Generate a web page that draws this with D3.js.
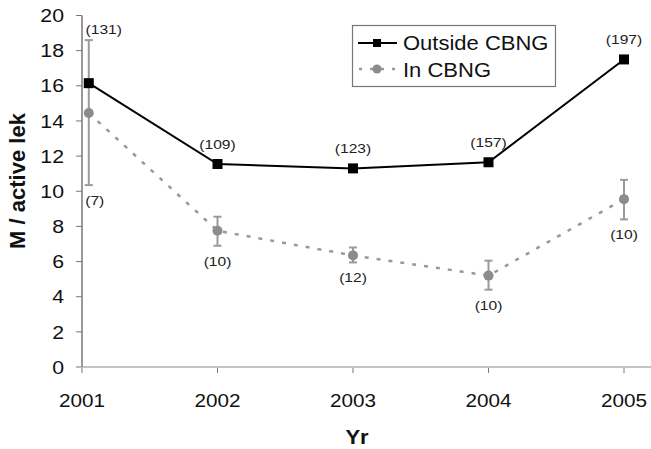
<!DOCTYPE html>
<html><head><meta charset="utf-8">
<script src="https://cdn.jsdelivr.net/npm/d3@7"></script>
<style>body{margin:0;background:#fff}svg{display:block}text{font-family:"Liberation Sans",Arial,sans-serif}</style>
</head><body><svg id="c" width="651" height="449"></svg>
<script>
const years = [2001, 2002, 2003, 2004, 2005];
// plotted x positions (first point nudged off the axis as in the original)
const xPos = [2001.05, 2002, 2003, 2004, 2005];
const outside = [16.15, 11.55, 11.3, 11.65, 17.5];
const outsideN = ["(131)", "(109)", "(123)", "(157)", "(197)"];
const inside = [14.45, 7.75, 6.35, 5.2, 9.55];
const insideLo = [10.35, 6.9, 5.95, 4.4, 8.4];
const insideHi = [18.6, 8.55, 6.8, 6.05, 10.65];
const insideN = ["(7)", "(10)", "(12)", "(10)", "(10)"];
const yTicks = [0, 2, 4, 6, 8, 10, 12, 14, 16, 18, 20];

const svg = d3.select("#c");
const x = d3.scaleLinear().domain([2001, 2005]).range([82, 624]);
const y = d3.scaleLinear().domain([0, 20]).range([367, 15.5]);
const SX = 1.15; // horizontal stretch of the original's lettering

// x axis
const gx = svg.append("g").attr("transform", "translate(0,367)");
gx.append("line").attr("x1", 82).attr("x2", 651).attr("stroke", "#c4c4c4").attr("stroke-width", 2);
gx.selectAll("line.t").data(years).enter().append("line").attr("class","t")
  .attr("x1", d => x(d)).attr("x2", d => x(d)).attr("y1", 1).attr("y2", 6).attr("stroke", "#777");
gx.selectAll("text").data(years).enter().append("text")
  .attr("transform", d => `translate(${x(d)},40) scale(${SX},1)`).attr("text-anchor", "middle")
  .attr("font-size", 18).attr("fill", "#111").text(d => d);

// y axis
const gy = svg.append("g");
gy.append("line").attr("x1", 82).attr("x2", 82).attr("y1", y(20)).attr("y2", y(0)).attr("stroke", "#777").attr("stroke-width", 1.5);
gy.selectAll("line.t").data(yTicks).enter().append("line").attr("class","t")
  .attr("x1", 76).attr("x2", 82).attr("y1", d => y(d)).attr("y2", d => y(d)).attr("stroke", "#777");
gy.selectAll("text").data(yTicks).enter().append("text")
  .attr("transform", d => `translate(64,${y(d)}) scale(${SX},1)`).attr("dy", "0.36em").attr("text-anchor", "end")
  .attr("font-size", 18.5).attr("fill", "#111").text(d => d);

svg.append("text").attr("transform", "translate(25,181) rotate(-90)").attr("text-anchor", "middle")
  .attr("font-size", 22).attr("font-weight", "bold").attr("fill", "#111").text("M / active lek");
svg.append("text").attr("transform", "translate(357,444) scale(1.1,1)").attr("text-anchor", "middle")
  .attr("font-size", 20).attr("font-weight", "bold").attr("fill", "#111").text("Yr");

// In CBNG series
const inData = xPos.map((d, i) => ({x: d, v: inside[i], lo: insideLo[i], hi: insideHi[i], n: insideN[i]}));
svg.append("path").datum(inData)
  .attr("d", d3.line().x(d => x(d.x)).y(d => y(d.v)))
  .attr("fill", "none").attr("stroke", "#999").attr("stroke-width", 2.5).attr("stroke-dasharray", "4,8");
const eb = svg.append("g").attr("stroke", "#9a9a9a").attr("stroke-width", 2);
eb.selectAll("line.v").data(inData).enter().append("line").attr("class","v")
  .attr("x1", d => x(d.x)).attr("x2", d => x(d.x)).attr("y1", d => y(d.lo)).attr("y2", d => y(d.hi));
eb.selectAll("line.h").data(inData).enter().append("line").attr("class","h")
  .attr("x1", d => x(d.x) - 4).attr("x2", d => x(d.x) + 4).attr("y1", d => y(d.hi)).attr("y2", d => y(d.hi));
eb.selectAll("line.l").data(inData).enter().append("line").attr("class","l")
  .attr("x1", d => x(d.x) - 4).attr("x2", d => x(d.x) + 4).attr("y1", d => y(d.lo)).attr("y2", d => y(d.lo));
svg.selectAll("circle.in").data(inData).enter().append("circle").attr("class","in")
  .attr("cx", d => x(d.x)).attr("cy", d => y(d.v)).attr("r", 5).attr("fill", "#8c8c8c");
svg.selectAll("text.inN").data(inData).enter().append("text").attr("class","inN")
  .attr("transform", (d, i) => `translate(${x(d.x) + (i === 0 ? 6 : 0)},${y(d.lo) + 20}) scale(1.2,1)`)
  .attr("text-anchor", "middle").attr("font-size", 13).attr("fill", "#222").text(d => d.n);

// Outside CBNG series
const outData = xPos.map((d, i) => ({x: d, v: outside[i], n: outsideN[i]}));
svg.append("path").datum(outData)
  .attr("d", d3.line().x(d => x(d.x)).y(d => y(d.v)))
  .attr("fill", "none").attr("stroke", "#000").attr("stroke-width", 2);
svg.selectAll("rect.out").data(outData).enter().append("rect").attr("class","out")
  .attr("x", d => x(d.x) - 5).attr("y", d => y(d.v) - 5).attr("width", 10).attr("height", 10).attr("fill", "#000");
svg.selectAll("text.outN").data(outData).enter().append("text").attr("class","outN")
  .attr("transform", (d, i) => `translate(${x(d.x) + (i === 0 ? 15 : 0)},${i === 0 ? y(insideHi[0]) - 6 : y(d.v) - 15}) scale(1.2,1)`)
  .attr("text-anchor", "middle").attr("font-size", 13).attr("fill", "#222").text(d => d.n);

// legend
const lg = svg.append("g");
lg.append("rect").attr("x", 352.5).attr("y", 25.5).attr("width", 203).attr("height", 61)
  .attr("fill", "#fff").attr("stroke", "#777").attr("stroke-width", 1.2);
lg.append("line").attr("x1", 358).attr("x2", 397).attr("y1", 43).attr("y2", 43).attr("stroke", "#000").attr("stroke-width", 2);
lg.append("rect").attr("x", 373).attr("y", 39).attr("width", 8).attr("height", 8).attr("fill", "#000");
lg.append("line").attr("x1", 358).attr("x2", 397).attr("y1", 69).attr("y2", 69).attr("stroke", "#999").attr("stroke-width", 2.5).attr("stroke-dasharray", "3,8").attr("stroke-dashoffset", -1);
lg.append("circle").attr("cx", 377).attr("cy", 69).attr("r", 4.5).attr("fill", "#8c8c8c");
lg.append("text").attr("transform", "translate(403,50) scale(1.1,1)").attr("font-size", 20).attr("fill", "#111").text("Outside CBNG");
lg.append("text").attr("transform", "translate(403,77) scale(1.1,1)").attr("font-size", 20).attr("fill", "#111").text("In CBNG");
</script></body></html>
